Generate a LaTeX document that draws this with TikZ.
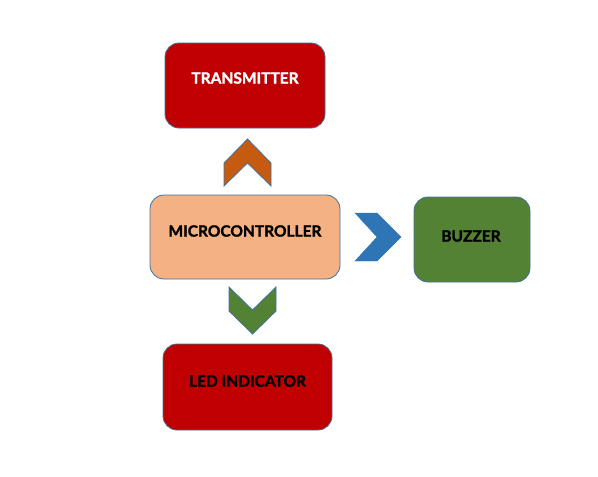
\documentclass[tikz,border=0pt]{standalone}
\usepackage{fontspec}
\setmainfont{Lato}[BoldFeatures={FakeBold=1.6}]
\usetikzlibrary{calc}
\definecolor{boxred}{HTML}{C00000}
\definecolor{boxpeach}{HTML}{F4B183}
\definecolor{boxgreen}{HTML}{548235}
\definecolor{arrorange}{HTML}{C55A11}
\definecolor{arrblue}{HTML}{2E75B6}
\definecolor{edgeblue}{HTML}{41719C}
\tikzset{
  block/.style={draw=edgeblue,line width=0.8pt,rounded corners=14pt,inner sep=0pt},
  blocktext/.style={font=\bfseries\fontsize{15.5}{18}\selectfont},
  chevron/.style={draw=edgeblue,line width=0.8pt}
}
\begin{document}
\begin{tikzpicture}[x=1pt,y=-1pt]
    \useasboundingbox (0,0) rectangle (598,477);
    % boxes
    \node[block,fill=boxred,minimum width=160pt,minimum height=85pt] (tx) at (245,85.5) {};
    \node[block,fill=boxpeach,minimum width=190pt,minimum height=84pt] (mcu) at (245,237) {};
    \node[block,fill=boxgreen,minimum width=116pt,minimum height=85pt] (bz) at (472,239.5) {};
    \node[block,fill=boxred,minimum width=169pt,minimum height=86pt] (led) at (247.5,387) {};
    % labels
    \node[blocktext,text=white] (txl) at (245,78) {TRANSMITTER};
    \node[blocktext] (mcul) at (245,231) {MICROCONTROLLER};
    \node[blocktext] (bzl) at (471,236) {BUZZER};
    \node[blocktext] (ledl) at (247.5,381) {LED INDICATOR};
    % chevrons
    \draw[chevron,fill=arrorange] (224,186) -- (224,163) -- (247.5,139) -- (271,163) -- (271,186) -- (247.5,163) -- cycle;
    \draw[draw=arrblue,fill=arrblue] (355,213) -- (377,213) -- (401,237) -- (377,261) -- (355,261) -- (377,237) -- cycle;
    \draw[chevron,fill=boxgreen] (229,287) -- (252.5,310) -- (276,287) -- (276,311) -- (252.5,334) -- (229,311) -- cycle;
\end{tikzpicture}
\end{document}
